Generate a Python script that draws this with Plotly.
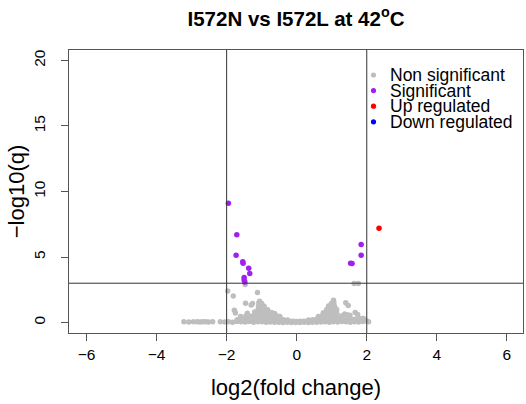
import plotly.graph_objects as go

# ---------------- data ----------------
title_text = "I572N vs I572L at 42<sup>o</sup>C"
x_ticks = [-6, -4, -2, 0, 2, 4, 6]
y_ticks = [0, 5, 10, 15, 20]
fc_cut = [-2, 2]
q_cut = 3

# non significant genes (grey)
ns_x = [
    # far-left low row
    -3.22, -3.08, -2.95, -2.84, -2.76, -2.68, -2.60, -2.52, -2.40, -2.18, -2.05,
    # base row
    -1.95, -1.83, -1.71, -1.59, -1.47, -1.35, -1.23, -1.11, -0.99, -0.87, -0.75,
    -0.63, -0.51, -0.39, -0.27, -0.15, -0.03, 0.09, 0.21, 0.33, 0.45, 0.57, 0.69,
    0.81, 0.93, 1.05, 1.17, 1.29, 1.41, 1.53, 1.65, 1.77, 1.89,
    # centre band
    -0.30, -0.20, -0.10, 0.00, 0.10, 0.20, 0.30, 0.40,
    # row ~0.25 left / right
    -1.70, -1.58, -1.46, -1.34, -1.22, -1.10, -0.98, -0.86, -0.74, -0.62, -0.50, -0.38, -0.26,
    0.34, 0.46, 0.58, 0.70, 0.82, 0.94, 1.06, 1.18, 1.30, 1.42, 1.54, 1.66, 1.80, 1.90,
    # row ~0.5
    -1.60, -1.45, -1.30, -1.18, -1.08, -0.98, -0.88, -0.78, -0.68, -0.58, -0.48,
    0.62, 0.72, 0.82, 0.92, 1.02, 1.12, 1.26, 1.40, 1.52,
    # row ~0.75
    -1.12, -1.02, -0.92, -0.82, -0.72, -0.63,
    0.76, 0.86, 0.96, 1.06, 1.14,
    # row ~1.0
    -1.10, -1.01, -0.92, -0.83,
    0.86, 0.95, 1.04, 1.12,
    # row ~1.25
    -1.09, -1.00, -0.93,
    0.91, 1.00, 1.08,
    # row ~1.5 and peaks
    -1.08, -1.00, -1.06,
    0.99, 1.06, 1.05,
    # scattered left
    -1.97, -1.81, -1.47, -1.12, -1.46, -1.30, -1.26, -1.78, -1.75, -1.41, -1.20,
    # scattered right
    1.40, 1.47, 1.67, 1.74, 1.89, 2.00, 2.05, 1.64, 1.76, 1.37, 1.45, 1.14,
]
ns_y = [
    0.05, 0.04, 0.05, 0.05, 0.04, 0.05, 0.05, 0.04, 0.05, 0.05, 0.04,
    0.06, 0.03, 0.08, 0.05, 0.04, 0.07, 0.03, 0.06, 0.05, 0.02, 0.04,
    0.03, 0.02, 0.01, 0.02, 0.01, 0.00, 0.01, 0.02, 0.01, 0.03, 0.02, 0.04,
    0.05, 0.03, 0.06, 0.04, 0.07, 0.05, 0.03, 0.06, 0.04, 0.08,
    0.12, 0.10, 0.09, 0.08, 0.09, 0.10, 0.12, 0.14,
    0.22, 0.28, 0.25, 0.30, 0.24, 0.27, 0.26, 0.30, 0.24, 0.28, 0.25, 0.22, 0.20,
    0.20, 0.22, 0.26, 0.28, 0.25, 0.30, 0.27, 0.24, 0.28, 0.22, 0.26, 0.24, 0.30, 0.31,
    0.45, 0.50, 0.48, 0.55, 0.50, 0.52, 0.48, 0.55, 0.50, 0.52, 0.46,
    0.45, 0.50, 0.55, 0.50, 0.52, 0.48, 0.50, 0.60, 0.55,
    0.75, 0.78, 0.74, 0.80, 0.76, 0.68,
    0.74, 0.80, 0.76, 0.78, 0.75,
    1.00, 1.05, 1.02, 0.98,
    1.00, 1.04, 1.02, 0.98,
    1.25, 1.30, 1.24,
    1.26, 1.30, 1.24,
    1.50, 1.45, 1.62,
    1.45, 1.52, 1.70,
    2.41, 2.03, 2.90, 2.29, 1.47, 1.33, 1.45, 0.94, 0.72, 0.71, 0.80,
    1.50, 1.30, 0.76, 0.62, 0.31, 0.12, 0.05, 2.97, 2.97, 0.65, 0.57, 1.00,
]

# significant (purple)
sig_x = [-1.95, -1.71, -1.73, -1.54, -1.53, -1.37, -1.34, -1.50, -1.50, -1.48,
         1.84, 1.84, 1.54, 1.58]
sig_y = [9.10, 6.69, 5.14, 4.63, 4.53, 4.14, 3.74, 3.43, 3.25, 3.10,
         5.95, 5.14, 4.53, 4.50]

# up regulated (red)
up_x = [2.35]
up_y = [7.20]

# down regulated (blue) - none
down_x = [None]
down_y = [None]

legend_labels = ["Non significant", "Significant", "Up regulated", "Down regulated"]
legend_colors = ["#BEBEBE", "#A020F0", "#FF0000", "#0000FF"]

# ---------------- figure ----------------
FONT = "Liberation Sans, Arial, Helvetica, sans-serif"
W, H = 526, 404
ML, MR, MT, MB = 69, 3, 50, 71
PW, PH = W - ML - MR, H - MT - MB

fig = go.Figure()

series = [(ns_x, ns_y), (sig_x, sig_y), (up_x, up_y), (down_x, down_y)]
for (xs, ys), name, color in zip(series, legend_labels, legend_colors):
    fig.add_trace(go.Scatter(
        x=xs, y=ys, mode="markers", name=name, showlegend=False,
        marker=dict(color=color, size=5.5, line=dict(width=0)),
        hoverinfo="x+y",
    ))

for v in fc_cut:
    fig.add_vline(x=v, line=dict(color="#333333", width=1))
fig.add_hline(y=q_cut, line=dict(color="#333333", width=1))

# legend drawn in the top-right corner of the plot box (R style, tight rows)
# base font 12 -> line pitch 15.6 px; each label enlarged via span
LEG_BASE, LEG_SIZE = 12, 17.5
leg_dot_px, leg_text_px, leg_top_px = 373.5, 389.0, 75.0
leg_step_px = LEG_BASE * 1.3
for i, col in enumerate(legend_colors):
    py = leg_top_px + i * leg_step_px
    fig.add_shape(type="circle", xref="paper", yref="paper",
                  xsizemode="pixel", ysizemode="pixel",
                  xanchor=(leg_dot_px - ML) / PW, yanchor=(H - MB - py) / PH,
                  x0=-2.6, x1=2.6, y0=-2.6, y1=2.6,
                  fillcolor=col, line=dict(width=0))
leg_text = "<br>".join(
    f"<span style='font-size:{LEG_SIZE}px'>{lab}</span>" for lab in legend_labels)
leg_mid_px = leg_top_px + 1.5 * leg_step_px
fig.add_annotation(xref="paper", yref="paper", x=(leg_text_px - ML) / PW,
                   y=(H - MB - leg_mid_px) / PH,
                   xanchor="left", yanchor="middle", align="left", showarrow=False,
                   borderpad=0, text=leg_text,
                   font=dict(family=FONT, size=LEG_BASE, color="black"))

axis_common = dict(
    showgrid=False, zeroline=False,
    showline=True, linecolor="#555555", linewidth=1, mirror=True,
    ticks="outside", ticklen=7, tickcolor="#555555", tickwidth=1,
    tickfont=dict(family=FONT, size=15.5, color="black"),
)

fig.update_layout(
    width=W, height=H,
    margin=dict(l=ML, r=MR, t=MT, b=MB),
    paper_bgcolor="white", plot_bgcolor="white",
    font=dict(family=FONT, color="black"),
    title=dict(text="<b>" + title_text + "</b>", x=(ML + PW / 2) / W, xanchor="center",
               y=1 - 18.5 / H, yanchor="middle",
               font=dict(family=FONT, size=20.5, color="black")),
    xaxis=dict(axis_common, range=[-6.5, 6.46], tickvals=x_ticks,
               title=dict(text="log2(fold change)", standoff=18,
                          font=dict(family=FONT, size=22, color="black"))),
    yaxis=dict(axis_common, range=[-0.8, 20.8], tickvals=y_ticks, tickangle=-90,
               ticklabelstandoff=10,
               title=dict(text="\u2212log10(q)", standoff=0,
                          font=dict(family=FONT, size=22, color="black"))),
    showlegend=False,
)

fig.write_html("out.html")
